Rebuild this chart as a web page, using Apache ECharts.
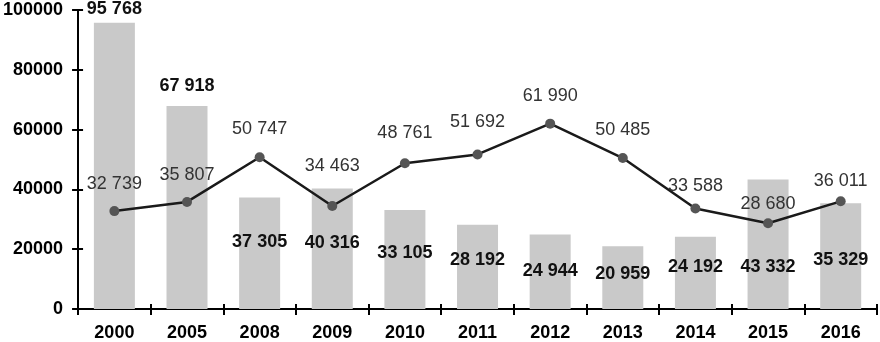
<!DOCTYPE html>
<html>
<head>
<meta charset="utf-8">
<script src="https://cdn.jsdelivr.net/npm/echarts@6/dist/echarts.min.js"></script>
<style>html,body{margin:0;padding:0;background:#fff;}#c{width:880px;height:342px;}</style>
</head>
<body>
<div id="c"></div>
<script>
const categories = ['2000','2005','2008','2009','2010','2011','2012','2013','2014','2015','2016'];
const barValues = [95768, 67918, 37305, 40316, 33105, 28192, 24944, 20959, 24192, 43332, 35329];
const lineValues = [32739, 35807, 50747, 34463, 48761, 51692, 61990, 50485, 33588, 28680, 36011];

// label placement (styling only)
const barLabelPos = ['top','top','insideBottom','insideBottom','insideBottom','insideBottom','insideBottom','insideBottom','insideBottom','insideBottom','insideBottom'];
const barLabelDist = [5, 11, 58, 57, 47, 40, 29, 26, 33, 33, 40];
const lineLabelDist = [13, 13, 14, 26, 16, 18, 14, 14, 9, 5, 6];

const fmt = v => String(v).replace(/\B(?=(\d{3})+(?!\d))/g, ' ');

const chart = echarts.init(document.getElementById('c'), null, {renderer: 'canvas'});
const FONT = 'Liberation Sans';

chart.setOption({
  animation: false,
  backgroundColor: '#ffffff',
  grid: {left: 78, right: 3, top: 10, bottom: 32, containLabel: false},
  xAxis: [{
    type: 'category',
    data: categories,
    boundaryGap: true,
    axisLine: {lineStyle: {color: '#000', width: 2}},
    axisTick: {show: true, alignWithLabel: false, length: 6, lineStyle: {color: '#000', width: 2}},
    axisLabel: {color: '#000', fontFamily: FONT, fontSize: 18, fontWeight: 'bold', margin: 15},
    splitLine: {show: false}
  }, {
    type: 'category',
    data: categories,
    position: 'bottom',
    boundaryGap: true,
    axisLine: {show: false},
    axisTick: {show: true, inside: true, length: 5, lineStyle: {color: '#000', width: 2}},
    axisLabel: {show: false},
    splitLine: {show: false}
  }],
  yAxis: [{
    type: 'value',
    min: 0, max: 100000, interval: 20000,
    axisLine: {show: true, lineStyle: {color: '#000', width: 2}},
    axisTick: {show: true, length: 6, lineStyle: {color: '#000', width: 2}},
    axisLabel: {color: '#000', fontFamily: FONT, fontSize: 18, fontWeight: 'bold', margin: 15, formatter: v => String(v)},
    splitLine: {show: false}
  }, {
    type: 'value',
    position: 'left',
    min: 0, max: 100000, interval: 20000,
    axisLine: {show: false},
    axisTick: {show: true, inside: true, length: 5, lineStyle: {color: '#000', width: 2}},
    axisLabel: {show: false},
    splitLine: {show: false}
  }],
  series: [{
    type: 'bar',
    data: barValues.map((v, i) => ({
      value: v,
      label: {position: barLabelPos[i], distance: barLabelDist[i]}
    })),
    barWidth: 41,
    itemStyle: {color: '#c9c9c9'},
    label: {
      show: true,
      color: '#111',
      fontFamily: FONT,
      fontSize: 18,
      fontWeight: 'bold',
      formatter: p => fmt(p.value)
    },
    z: 2
  }, {
    type: 'line',
    data: lineValues.map((v, i) => ({value: v, label: {distance: lineLabelDist[i]}})),
    symbol: 'circle',
    symbolSize: 10,
    lineStyle: {color: '#1a1a1a', width: 2.5},
    itemStyle: {color: '#555555', borderColor: '#444', borderWidth: 0},
    label: {
      show: true,
      position: 'top',
      color: '#333',
      fontFamily: FONT,
      fontSize: 18,
      formatter: p => fmt(p.value)
    },
    z: 5
  }]
});
</script>
</body>
</html>
